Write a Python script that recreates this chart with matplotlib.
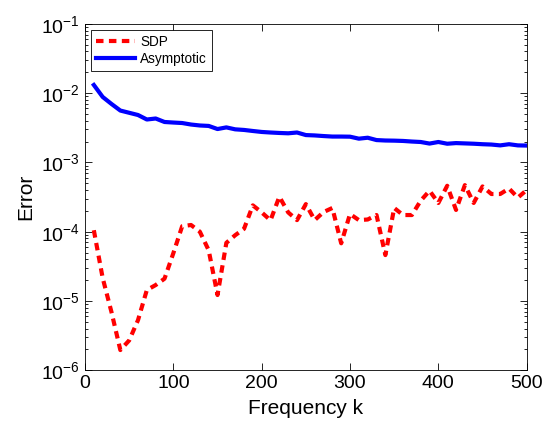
import matplotlib
matplotlib.use("Agg")
import matplotlib.pyplot as plt
import numpy as np

plt.rcParams['font.family'] = ['Liberation Sans', 'DejaVu Sans']
plt.rcParams['mathtext.fontset'] = 'custom'
plt.rcParams['mathtext.rm'] = 'Liberation Sans'

# frequencies k = 10, 20, ..., 500
k = np.arange(10, 501, 10)

sdp_err = [1.05e-4, 2.15e-5, 6.9e-6, 1.96e-6, 2.7e-6, 5.3e-6, 1.44e-5, 1.7e-5, 2.1e-5, 4.9e-5,
           1.2e-4, 1.25e-4, 1.0e-4, 5.4e-5, 1.22e-5, 6.9e-5, 8.9e-5, 1.1e-4, 2.4e-4, 1.9e-4,
           1.46e-4, 3.2e-4, 1.9e-4, 1.47e-4, 2.5e-4, 1.47e-4, 1.92e-4, 2.2e-4, 6.8e-5, 1.8e-4,
           1.47e-4, 1.5e-4, 1.74e-4, 4.6e-5, 2.2e-4, 1.74e-4, 1.74e-4, 2.8e-4, 3.9e-4, 2.6e-4,
           4.6e-4, 2.06e-4, 4.7e-4, 2.6e-4, 4.5e-4, 3.5e-4, 3.5e-4, 4.2e-4, 3.1e-4, 4.0e-4]

asym_err = [1.31e-2, 8.8e-3, 6.97e-3, 5.6e-3, 5.2e-3, 4.83e-3, 4.16e-3, 4.3e-3, 3.83e-3, 3.76e-3,
            3.7e-3, 3.52e-3, 3.41e-3, 3.36e-3, 3.03e-3, 3.2e-3, 3.0e-3, 2.94e-3, 2.84e-3, 2.75e-3,
            2.7e-3, 2.66e-3, 2.63e-3, 2.7e-3, 2.48e-3, 2.45e-3, 2.4e-3, 2.36e-3, 2.36e-3, 2.35e-3,
            2.2e-3, 2.27e-3, 2.1e-3, 2.07e-3, 2.06e-3, 2.04e-3, 2.0e-3, 1.97e-3, 1.87e-3, 1.97e-3,
            1.86e-3, 1.9e-3, 1.88e-3, 1.86e-3, 1.83e-3, 1.81e-3, 1.76e-3, 1.83e-3, 1.76e-3, 1.75e-3]

fig = plt.figure(figsize=(5.47, 4.22), dpi=100)
ax = fig.add_axes([0.1554, 0.1225, 0.8075, 0.8211])

ax.semilogy(k, sdp_err, color='red', lw=3, linestyle=(0, (1.8, 1.3)), label='SDP')
ax.semilogy(k, asym_err, color='blue', lw=3, label='Asymptotic')

ax.set_xlim(0, 500)
ax.set_ylim(1e-6, 1e-1)
ax.set_xticks([0, 100, 200, 300, 400, 500])
ax.set_xlabel('Frequency k', fontsize=15, labelpad=5)
ax.set_ylabel('Error', fontsize=15, labelpad=4)

ax.tick_params(which='both', direction='in', top=True, right=True, labelsize=14, width=0.6)
ax.tick_params(which='major', length=5)
ax.tick_params(which='minor', length=2.5)
ax.tick_params(axis='x', which='minor', top=False, bottom=False)
for s in ax.spines.values():
    s.set_linewidth(0.6)

leg = ax.legend(loc='upper left', fontsize=9.8, handlelength=2.9, handletextpad=0.35,
                borderpad=0.35, labelspacing=0.25, fancybox=False, framealpha=1,
                borderaxespad=0.45, edgecolor='black')
leg.get_frame().set_linewidth(0.6)

fig.savefig('out.png', dpi=100)
